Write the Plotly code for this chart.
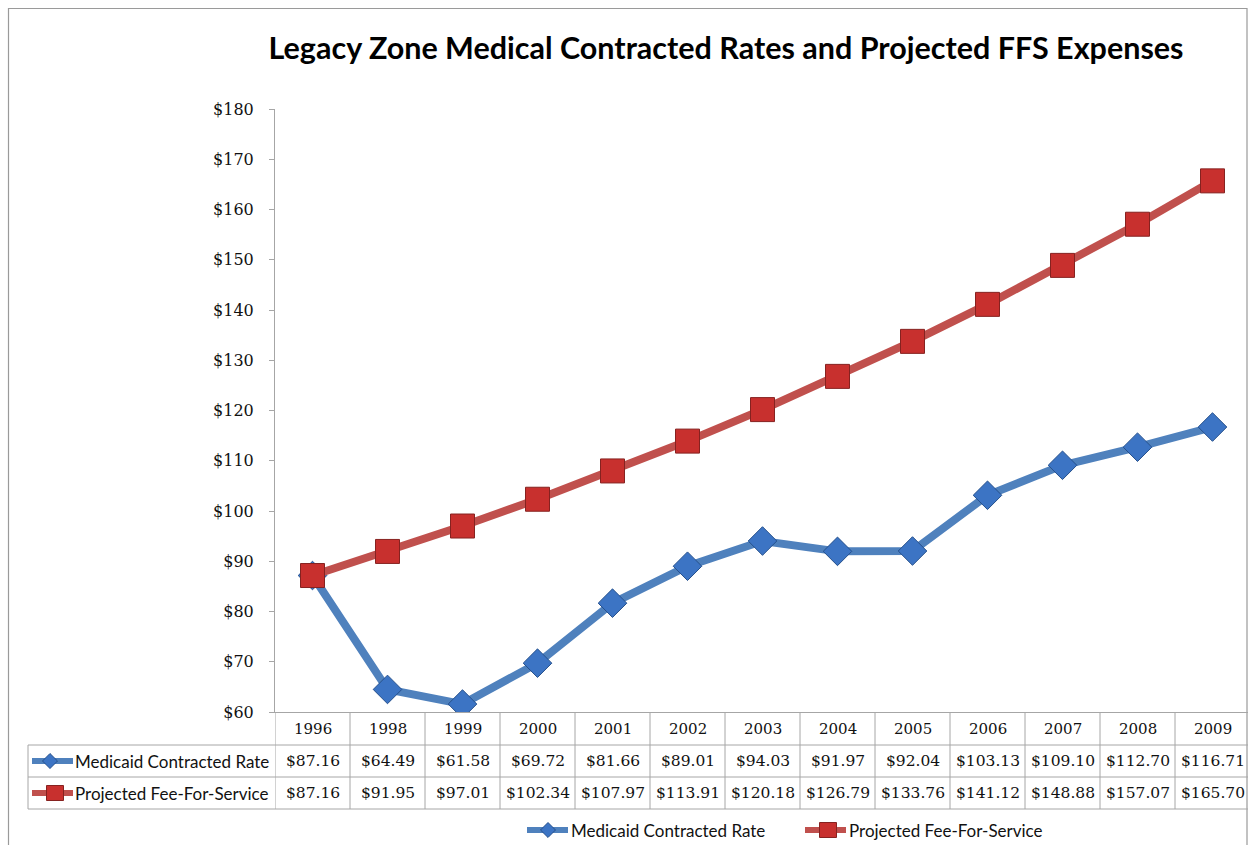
import plotly.graph_objects as go

# ---------------- data ----------------
years = ["1996", "1998", "1999", "2000", "2001", "2002", "2003",
         "2004", "2005", "2006", "2007", "2008", "2009"]
medicaid = [87.16, 64.49, 61.58, 69.72, 81.66, 89.01, 94.03,
            91.97, 92.04, 103.13, 109.10, 112.70, 116.71]
ffs = [87.16, 91.95, 97.01, 102.34, 107.97, 113.91, 120.18,
       126.79, 133.76, 141.12, 148.88, 157.07, 165.70]
series_names = ["Medicaid Contracted Rate", "Projected Fee-For-Service"]
y_tick_vals = list(range(60, 190, 10))
y_tick_text = ["$%d" % v for v in y_tick_vals]
title_text = "Legacy Zone Medical Contracted Rates and Projected FFS Expenses"

# ---------------- layout helpers ----------------
W, H = 1248, 845


def fx(p):
    return p / W


def fy(p):
    return 1 - p / H


BLUE = "#4F81BD"
BLUE_M = "#3C74C4"
BLUE_E = "#25508C"
RED = "#C0504D"
RED_M = "#C8302E"
RED_E = "#862220"
GRID = "#A6A6A6"
TXT = "#111111"
SERIF = "DejaVu Serif"
SANS = "Lato"

n = len(years)
xs = list(range(n))
cat_w = 75.0
x_left_px = 275
x_range = [-0.5, -0.5 + (W - x_left_px) / cat_w]

fig = go.Figure()
fig.add_trace(go.Scatter(
    x=xs, y=medicaid, name=series_names[0], mode="lines+markers",
    line=dict(color=BLUE, width=8),
    marker=dict(symbol="diamond", size=22, color=BLUE_M,
                line=dict(color=BLUE_E, width=1)),
    showlegend=False,
))
fig.add_trace(go.Scatter(
    x=xs, y=ffs, name=series_names[1], mode="lines+markers",
    line=dict(color=RED, width=8),
    marker=dict(symbol="square", size=24, color=RED_M,
                line=dict(color=RED_E, width=1)),
    showlegend=False,
))

shapes = []
annotations = []

# outer chart border
shapes.append(dict(type="rect", xref="paper", yref="paper",
                   x0=fx(8.5), x1=fx(1247), y0=fy(860), y1=fy(8.5),
                   line=dict(color="#9A9A9A", width=1.2), layer="below"))

# data table grid
y_top, y_r1, y_r2, y_bot = 712, 745, 777, 809
for i in range(n + 1):
    shapes.append(dict(type="line", xref="x", yref="paper",
                       x0=i - 0.5, x1=i - 0.5, y0=fy(y_bot), y1=fy(y_top),
                       line=dict(color=GRID, width=1)))
for yy in (y_r1, y_r2, y_bot):
    shapes.append(dict(type="line", xref="paper", yref="paper",
                       x0=fx(28), x1=1, y0=fy(yy), y1=fy(yy),
                       line=dict(color=GRID, width=1)))
shapes.append(dict(type="line", xref="paper", yref="paper",
                   x0=fx(28), x1=fx(28), y0=fy(y_bot), y1=fy(y_r1),
                   line=dict(color=GRID, width=1)))


def add_key(x_start, yc, style, marker_cx):
    lc, mc, ec, sym = style
    shapes.append(dict(type="line", xref="paper", yref="paper",
                       x0=fx(x_start), x1=fx(x_start + 41), y0=fy(yc), y1=fy(yc),
                       line=dict(color=lc, width=6)))
    if sym == "diamond":
        r = 7.5
        path = "M %f %f L %f %f L %f %f L %f %f Z" % (
            fx(marker_cx - r), fy(yc), fx(marker_cx), fy(yc - r),
            fx(marker_cx + r), fy(yc), fx(marker_cx), fy(yc + r))
        shapes.append(dict(type="path", xref="paper", yref="paper", path=path,
                           fillcolor=mc, line=dict(color=ec, width=1)))
    else:
        rx, ry = 8.5, 7.5
        shapes.append(dict(type="rect", xref="paper", yref="paper",
                           x0=fx(marker_cx - rx), x1=fx(marker_cx + rx),
                           y0=fy(yc + ry), y1=fy(yc - ry),
                           fillcolor=mc, line=dict(color=ec, width=1)))


styles = [(BLUE, BLUE_M, BLUE_E, "diamond"), (RED, RED_M, RED_E, "square")]

# keys + row labels inside the table
row_centers = [(y_r1 + y_r2) / 2, (y_r2 + y_bot) / 2]
for st, yc, cx in zip(styles, row_centers, [50, 55]):
    add_key(32, yc, st, cx)
for name, yc in zip(series_names, row_centers):
    annotations.append(dict(x=fx(73), y=fy(yc), xref="paper", yref="paper",
                            text=name, showarrow=False, xanchor="left",
                            yanchor="middle",
                            font=dict(family=SANS, size=17, color=TXT)))

# header years and values
header_y = (y_top + y_r1) / 2
for i, yr in enumerate(years):
    annotations.append(dict(x=i, y=fy(header_y), xref="x", yref="paper",
                            text=yr, showarrow=False, xanchor="center",
                            yanchor="middle",
                            font=dict(family=SERIF, size=15, color=TXT)))
for vals, yc in zip([medicaid, ffs], row_centers):
    for i, v in enumerate(vals):
        annotations.append(dict(x=i, y=fy(yc), xref="x", yref="paper",
                                text="$%.2f" % v, showarrow=False,
                                xanchor="center", yanchor="middle",
                                font=dict(family=SERIF, size=15.5, color=TXT)))

# bottom legend
leg_y = 830
for st, name, x0, cx in zip(styles, series_names, [527, 805], [548, 828]):
    add_key(x0, leg_y, st, cx)
    annotations.append(dict(x=fx(x0 + 42), y=fy(leg_y), xref="paper", yref="paper",
                            text=name, showarrow=False, xanchor="left",
                            yanchor="middle",
                            font=dict(family=SANS, size=17, color=TXT)))

fig.update_layout(
    width=W, height=H,
    margin=dict(l=0, r=0, t=0, b=0, autoexpand=False),
    paper_bgcolor="white", plot_bgcolor="white",
    title=dict(text=title_text, x=fx(726), xanchor="center",
               y=fy(48), yanchor="middle", yref="container",
               font=dict(family=SANS, size=30.5, color="black", weight="bold")),
    xaxis=dict(domain=[fx(x_left_px), 1], range=x_range,
               showgrid=False, zeroline=False, showticklabels=False,
               ticks="", showline=True, linecolor=GRID, linewidth=1),
    yaxis=dict(domain=[fy(y_top), fy(109)], range=[60, 180],
               tickvals=y_tick_vals, ticktext=y_tick_text,
               showgrid=False, zeroline=False,
               showline=True, linecolor=GRID, linewidth=1,
               ticks="outside", ticklen=5, tickcolor=GRID,
               ticklabelstandoff=12,
               tickfont=dict(family=SERIF, size=16, color=TXT)),
    shapes=shapes,
    annotations=annotations,
    showlegend=False,
)

fig.write_html(
    "out.html",
    config={"displayModeBar": False},
    post_script=("document.body.style.margin='0';"
                 "document.body.style.overflow='hidden';"
                 "document.documentElement.style.overflow='hidden';"),
)
